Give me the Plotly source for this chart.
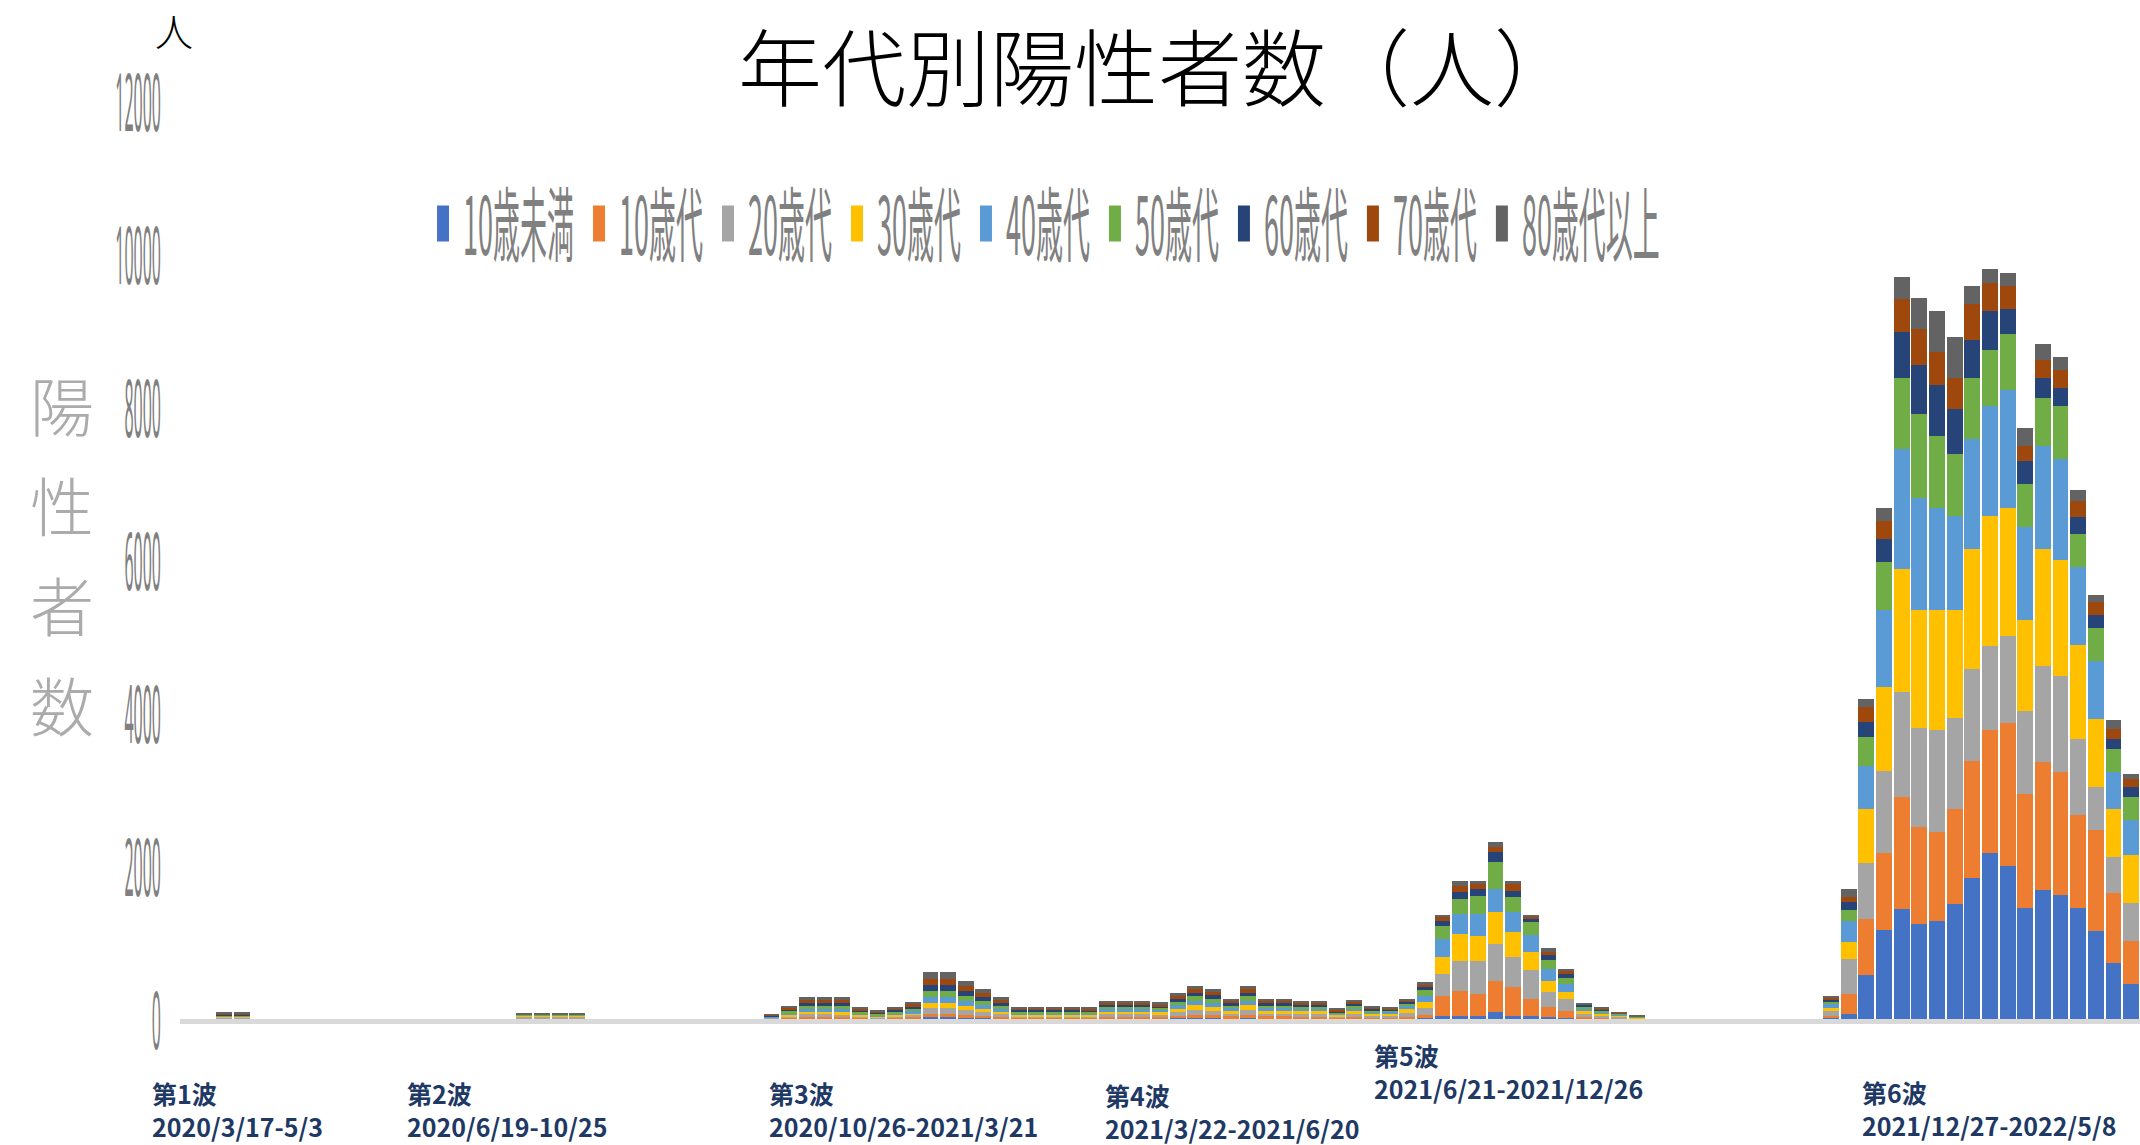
import plotly.graph_objects as go

# ---- data: weekly positive cases by age group (one slot per week) ----
weeks = list(range(111))

age_groups = ["10歳未満", "10歳代", "20歳代", "30歳代", "40歳代",
              "50歳代", "60歳代", "70歳代", "80歳代以上"]
colors = ["#4472C4", "#ED7D31", "#A5A5A5", "#FFC000", "#5B9BD5",
          "#70AD47", "#264478", "#9E480E", "#636363"]

under10 = [
    0, 0, 0, 0, 0, 0, 0, 0, 0, 0,
    0, 0, 0, 0, 0, 0, 0, 0, 0, 2,
    2, 2, 2, 0, 0, 0, 0, 0, 0, 0,
    0, 0, 0, 2, 5, 8, 8, 8, 5, 3,
    5, 6, 20, 20, 15, 12, 8, 5, 5, 5,
    5, 5, 8, 8, 8, 7, 12, 15, 14, 9,
    15, 9, 9, 8, 8, 5, 9, 6, 3, 5,
    10, 44, 44, 44, 87, 44, 44, 22, 15, 5,
    5, 3, 1, 0, 0, 0, 0, 0, 0, 0,
    0, 0, 0, 10, 60, 570, 1170, 1436, 1236, 1283,
    1503, 1837, 2171, 2004, 1452, 1683, 1617, 1452, 1155, 726,
    462]
teens = [
    0, 0, 5, 5, 0, 0, 0, 0, 0, 0,
    0, 0, 0, 0, 0, 0, 0, 0, 0, 8,
    8, 8, 8, 0, 0, 0, 0, 0, 0, 0,
    0, 0, 0, 4, 10, 17, 17, 17, 10, 7,
    10, 14, 45, 45, 35, 28, 20, 11, 11, 11,
    11, 12, 20, 20, 20, 18, 30, 40, 35, 24,
    40, 24, 24, 22, 22, 12, 23, 15, 12, 25,
    40, 262, 327, 283, 414, 370, 220, 130, 90, 25,
    15, 10, 4, 0, 0, 0, 0, 0, 0, 0,
    0, 0, 0, 30, 270, 735, 1000, 1470, 1270, 1155,
    1236, 1536, 1603, 1870, 1485, 1683, 1617, 1221, 1320, 924,
    561]
twenties = [
    0, 0, 15, 15, 0, 0, 0, 0, 0, 0,
    0, 0, 0, 0, 0, 0, 0, 0, 0, 20,
    20, 20, 20, 0, 0, 0, 0, 0, 0, 0,
    0, 0, 0, 8, 20, 35, 35, 33, 20, 14,
    20, 28, 80, 80, 65, 50, 35, 20, 20, 20,
    20, 22, 35, 35, 35, 32, 50, 65, 58, 38,
    65, 38, 38, 36, 36, 20, 38, 25, 28, 50,
    90, 283, 392, 436, 480, 392, 380, 200, 150, 40,
    25, 15, 7, 0, 0, 0, 0, 0, 0, 0,
    0, 0, 0, 60, 450, 735, 1070, 1370, 1300, 1336,
    1202, 1202, 1102, 1136, 1089, 1254, 1254, 990, 561, 462,
    495]
thirties = [
    0, 0, 10, 10, 0, 0, 0, 0, 0, 0,
    0, 0, 0, 0, 0, 0, 0, 0, 0, 10,
    10, 10, 10, 0, 0, 0, 0, 0, 0, 0,
    0, 0, 0, 8, 20, 35, 35, 40, 20, 14,
    20, 28, 70, 70, 60, 45, 35, 20, 20, 20,
    20, 20, 32, 32, 32, 30, 45, 60, 55, 36,
    60, 36, 36, 33, 33, 18, 35, 23, 28, 45,
    80, 218, 349, 327, 414, 327, 230, 150, 100, 35,
    25, 15, 6, 0, 0, 0, 0, 0, 0, 0,
    0, 0, 0, 50, 230, 700, 1100, 1600, 1536, 1570,
    1403, 1570, 1703, 1670, 1188, 1518, 1518, 1221, 891, 627,
    627]
forties = [
    0, 0, 10, 10, 0, 0, 0, 0, 0, 0,
    0, 0, 0, 0, 0, 0, 0, 0, 0, 8,
    8, 8, 8, 0, 0, 0, 0, 0, 0, 0,
    0, 0, 0, 8, 20, 35, 35, 35, 18, 13,
    20, 26, 70, 70, 55, 45, 32, 18, 18, 18,
    18, 18, 30, 30, 30, 27, 42, 55, 50, 33,
    55, 33, 33, 30, 30, 16, 32, 21, 22, 40,
    80, 240, 262, 283, 305, 262, 230, 150, 100, 30,
    20, 12, 6, 0, 0, 0, 0, 0, 0, 0,
    0, 0, 0, 40, 270, 570, 1000, 1570, 1470, 1336,
    1236, 1436, 1436, 1536, 1221, 1353, 1320, 1023, 759, 495,
    462]
fifties = [
    0, 0, 10, 10, 0, 0, 0, 0, 0, 0,
    0, 0, 0, 0, 0, 0, 0, 0, 0, 7,
    7, 7, 7, 0, 0, 0, 0, 0, 0, 0,
    0, 0, 0, 9, 25, 40, 40, 40, 22, 15,
    22, 30, 80, 80, 65, 52, 38, 22, 22, 22,
    22, 20, 30, 30, 30, 28, 45, 60, 52, 36,
    60, 36, 36, 33, 33, 18, 35, 23, 22, 40,
    80, 174, 196, 240, 349, 196, 160, 120, 80, 30,
    20, 12, 6, 0, 0, 0, 0, 0, 0, 0,
    0, 0, 0, 40, 150, 370, 635, 935, 1100, 935,
    800, 800, 735, 735, 561, 627, 693, 429, 429, 297,
    297]
sixties = [
    0, 0, 10, 10, 0, 0, 0, 0, 0, 0,
    0, 0, 0, 0, 0, 0, 0, 0, 0, 5,
    5, 5, 5, 0, 0, 0, 0, 0, 0, 0,
    0, 0, 0, 9, 30, 40, 40, 40, 22, 15,
    24, 32, 80, 80, 70, 55, 40, 23, 23, 23,
    23, 20, 30, 30, 30, 27, 40, 50, 45, 30,
    50, 30, 30, 28, 28, 15, 29, 19, 14, 25,
    40, 65, 87, 87, 131, 87, 45, 60, 50, 20,
    15, 10, 4, 0, 0, 0, 0, 0, 0, 0,
    0, 0, 0, 25, 100, 200, 300, 600, 635, 668,
    600, 500, 500, 334, 297, 264, 231, 231, 165, 132,
    132]
seventies = [
    0, 0, 10, 10, 0, 0, 0, 0, 0, 0,
    0, 0, 0, 0, 0, 0, 0, 0, 0, 5,
    5, 5, 5, 0, 0, 0, 0, 0, 0, 0,
    0, 0, 0, 8, 20, 33, 33, 33, 20, 15,
    18, 26, 80, 80, 66, 50, 35, 20, 20, 20,
    20, 18, 28, 28, 28, 25, 36, 46, 42, 28,
    46, 28, 28, 25, 25, 14, 26, 17, 9, 12,
    25, 44, 87, 65, 65, 87, 30, 50, 40, 10,
    10, 6, 3, 0, 0, 0, 0, 0, 0, 0,
    0, 0, 0, 20, 60, 200, 235, 434, 470, 434,
    400, 468, 367, 300, 198, 231, 231, 198, 165, 132,
    99]
over80 = [
    0, 0, 10, 10, 0, 0, 0, 0, 0, 0,
    0, 0, 0, 0, 0, 0, 0, 0, 0, 5,
    5, 5, 5, 0, 0, 0, 0, 0, 0, 0,
    0, 0, 0, 9, 25, 40, 40, 37, 24, 17,
    22, 28, 85, 85, 70, 55, 40, 22, 22, 22,
    22, 18, 27, 27, 27, 24, 36, 45, 41, 28,
    45, 28, 28, 25, 25, 13, 26, 17, 12, 18,
    35, 35, 65, 44, 65, 44, 26, 48, 30, 15,
    10, 7, 3, 0, 0, 0, 0, 0, 0, 0,
    0, 0, 0, 25, 110, 100, 170, 280, 414, 534,
    534, 234, 187, 167, 231, 211, 178, 152, 99, 112,
    66]

series = [under10, teens, twenties, thirties, forties,
          fifties, sixties, seventies, over80]

y_ticks = [0, 2000, 4000, 6000, 8000, 10000, 12000]
y_tick_text = ["0", "2000", "4000", "6000", "8000", "10000", "12000"]

title_text = "年代別陽性者数（人）"
unit_text = "人"
y_title = "陽性者数"

wave_labels = [
    ("第1波", "2020/3/17-5/3"),
    ("第2波", "2020/6/19-10/25"),
    ("第3波", "2020/10/26-2021/3/21"),
    ("第4波", "2021/3/22-2021/6/20"),
    ("第5波", "2021/6/21-2021/12/26"),
    ("第6波", "2021/12/27-2022/5/8"),
]
wave_x = [-0.0153, 0.1148, 0.2995, 0.4709, 0.6082, 0.8571]
wave_y = [-0.0985, -0.0985, -0.0985, -0.1005, -0.0575, -0.0975]

JP = "Noto Sans CJK JP"

fig = go.Figure()
for name, vals, col in zip(age_groups, series, colors):
    fig.add_trace(go.Bar(x=weeks, y=vals, name=name,
                         marker=dict(color=col, line=dict(width=0))))

annotations = [
    dict(text=title_text, x=0.499, y=1.1089, xref="paper", yref="paper",
         xanchor="center", yanchor="top", showarrow=False,
         font=dict(family=JP, size=84, color="#000000", weight=300)),
    dict(text=unit_text, x=-0.003, y=1.078, xref="paper", yref="paper",
         xanchor="center", yanchor="middle", showarrow=False,
         font=dict(family=JP, size=38, color="#000000", weight=300)),
]
# vertical (stacked) y-axis title, one character per line
y_char_centers = [0.671, 0.5621, 0.4532, 0.3442]
for ch, yy in zip(y_title, y_char_centers):
    annotations.append(dict(
        text=ch, x=-0.060, y=yy, xref="paper", yref="paper",
        xanchor="center", yanchor="middle", showarrow=False,
        font=dict(family=JP, size=64, color="#ABABAB", weight=300)))

for (head, period), xx, yy in zip(wave_labels, wave_x, wave_y):
    annotations.append(dict(
        text="<b>" + head + "</b><br><b>" + period + "</b>",
        x=xx, y=yy, xref="paper", yref="paper", xanchor="left", yanchor="middle",
        align="left", showarrow=False,
        font=dict(family="Liberation Sans Narrow, " + JP, size=25, color="#203864")))

fig.update_layout(
    width=2140, height=1145,
    margin=dict(l=180, r=0, t=101, b=126),
    paper_bgcolor="white", plot_bgcolor="white",
    barmode="stack", bargap=0.1,
    showlegend=True,
    legend=dict(orientation="h", x=0.124, xanchor="left", y=0.865, yanchor="middle",
                font=dict(family=JP, size=27, color="#808080"),
                bgcolor="rgba(0,0,0,0)", traceorder="normal"),
    xaxis=dict(range=[-0.5, 110.5], showticklabels=False, ticks="",
               showgrid=False, zeroline=False, showline=True,
               linecolor="#D9D9D9", linewidth=5),
    yaxis=dict(range=[0, 12000], tickvals=y_ticks, ticktext=y_tick_text, ticks="",
               showgrid=False, zeroline=False, showline=False, ticklabelstandoff=18,
               tickfont=dict(family="Noto Sans", size=16, color="#808080")),
    annotations=annotations,
)

# page margin reset + the reference's vertically stretched (narrow) lettering
post_js = """
document.body.style.margin = '0';
document.body.style.overflow = 'hidden';
(function () {
  var gd = document.getElementById('{plot_id}');
  function stretch(el, sx, sy, mode) {
    var bb = el.getBBox();
    if (!bb || bb.width === 0) return;
    var cx = mode === 'end' ? bb.x + bb.width : (mode === 'start' ? bb.x : bb.x + bb.width / 2);
    var cy = bb.y + bb.height / 2;
    var t = el.getAttribute('transform') || '';
    el.setAttribute('transform', t + ' translate(' + cx + ',' + cy + ') scale(' + sx + ',' + sy + ') translate(' + (-cx) + ',' + (-cy) + ')');
  }
  var done = false;
  function apply() {
    if (done) return;
    var ticks = gd.querySelectorAll('g.ytick text');
    if (!ticks.length) { setTimeout(apply, 100); return; }
    done = true;
    ticks.forEach(function (el) { stretch(el, 1.0, 5.0, 'end'); });
    var lg = gd.querySelector('g.legend');
    if (lg) stretch(lg, 1.0, 3.0, 'center');
  }
  apply();
})();
"""

fig.write_html("out.html", config={"displayModeBar": False}, post_script=post_js)
